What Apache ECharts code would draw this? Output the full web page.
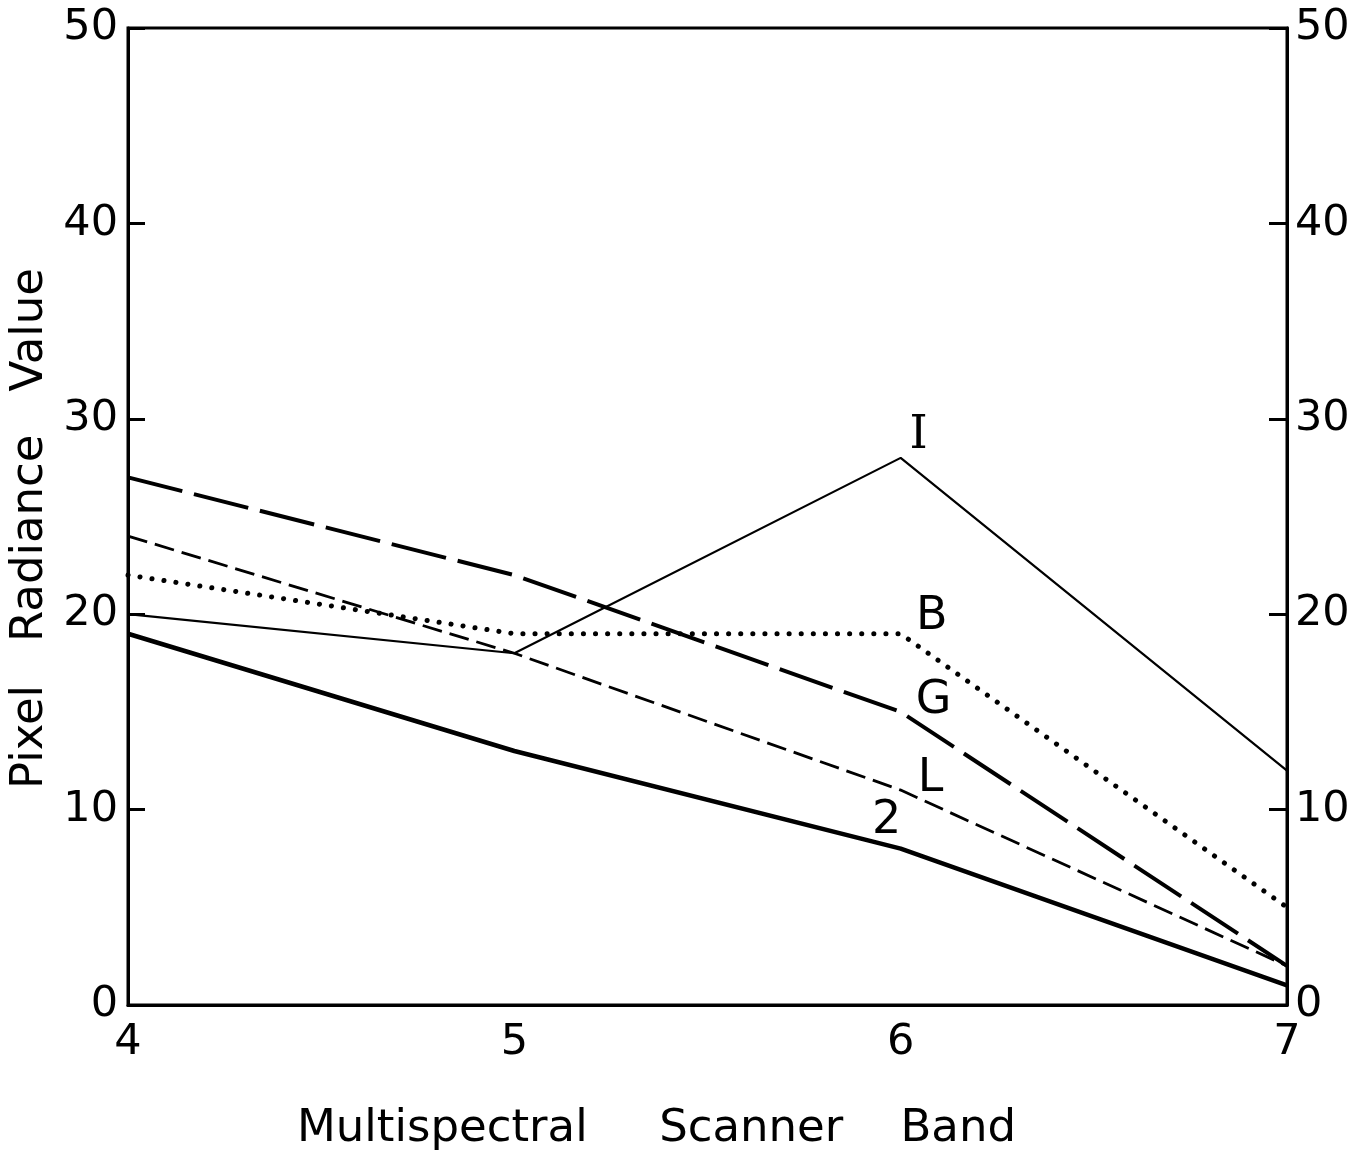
<!DOCTYPE html>
<html>
<head>
<meta charset="utf-8">
<script src="https://cdn.jsdelivr.net/npm/echarts@6/dist/echarts.min.js"></script>
<style>
html,body{margin:0;padding:0;background:#fff;}
#chart{width:1363px;height:1155px;}
</style>
</head>
<body>
<div id="chart"></div>
<script>
const bands = [4, 5, 6, 7];
const yTicks = [0, 10, 20, 30, 40, 50];
const seriesNames = ['I', 'B', 'G', 'L', '2'];
const valuesI = [20, 18, 28, 12];
const valuesB = [22, 19, 19, 5];
const valuesG = [27, 22, 15, 2];
const valuesL = [24, 18, 11, 2];
const values2 = [19, 13, 8, 1];

const FONT = 'DejaVu Sans';
const chart = echarts.init(document.getElementById('chart'));

function mk(name, vals, lineStyle, labelOffset, z, fontFamily) {
  return {
    name: name,
    type: 'line',
    z: z,
    symbol: 'circle',
    symbolSize: 0.1,
    showSymbol: true,
    itemStyle: { color: 'rgba(0,0,0,0)' },
    lineStyle: Object.assign({ color: '#000' }, lineStyle),
    emphasis: { disabled: true },
    data: bands.map((b, i) => {
      const d = { value: [b, vals[i]] };
      if (i === 2) {
        d.label = {
          show: true, formatter: name, position: 'inside',
          offset: labelOffset, color: '#000',
          fontFamily: fontFamily || FONT, fontSize: 46
        };
      } else {
        d.label = { show: false };
      }
      return d;
    })
  };
}

const option = {
  backgroundColor: '#fff',
  animation: false,
  title: {
    text: 'Multispectral     Scanner    Band',
    left: 292, top: 1102,
    textStyle: { fontFamily: FONT, fontSize: 45, fontWeight: 'normal', color: '#000' }
  },
  grid: { left: 128, right: 76, top: 28, bottom: 150, show: true, borderColor: '#000', borderWidth: 3,
    containLabel: false, outerBoundsMode: 'none' },
  xAxis: {
    type: 'value', min: 4, max: 7, interval: 1,
    axisLine: { show: true, lineStyle: { color: '#000', width: 3 } },
    axisTick: { show: false },
    splitLine: { show: false },
    axisLabel: { color: '#000', fontFamily: FONT, fontSize: 43, margin: 16 }
  },
  yAxis: [
    {
      type: 'value', min: 0, max: 50, interval: 10, position: 'left',
      name: 'Pixel   Radiance   Value',
      nameLocation: 'middle', nameGap: 73,
      nameTextStyle: { fontFamily: FONT, fontSize: 45, color: '#000', padding: [0, 24, 0, 0] },
      axisLine: { show: true, lineStyle: { color: '#000', width: 3 } },
      axisTick: { show: true, inside: true, length: 17, lineStyle: { color: '#000', width: 3 } },
      splitLine: { show: false },
      axisLabel: { color: '#000', fontFamily: FONT, fontSize: 43, margin: 10,
        formatter: v => yTicks.includes(v) ? String(v) : '' }
    },
    {
      type: 'value', min: 0, max: 50, interval: 10, position: 'right',
      axisLine: { show: true, lineStyle: { color: '#000', width: 3 } },
      axisTick: { show: true, inside: true, length: 18, lineStyle: { color: '#000', width: 3 } },
      splitLine: { show: false },
      axisLabel: { color: '#000', fontFamily: FONT, fontSize: 43, margin: 8,
        formatter: v => yTicks.includes(v) ? String(v) : '' }
    }
  ],
  series: [
    mk(seriesNames[0], valuesI, { width: 2.2, type: 'solid' }, [18, -22], 5, 'DejaVu Serif'),
    mk(seriesNames[1], valuesB, { width: 5, type: [0.1, 12], cap: 'round' }, [31, -17], 4),
    mk(seriesNames[2], valuesG, { width: 4, type: [56, 12] }, [33, -11], 3),
    mk(seriesNames[3], valuesL, { width: 2.8, type: [20, 8] }, [30, -11], 2),
    mk(seriesNames[4], values2, { width: 4.5, type: 'solid' }, [-14, -28], 6)
  ]
};
chart.setOption(option);
</script>
</body>
</html>
